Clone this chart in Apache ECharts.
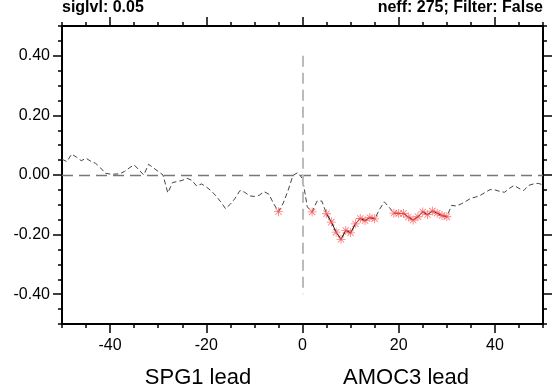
<!DOCTYPE html>
<html>
<head>
<meta charset="utf-8">
<script src="https://cdn.jsdelivr.net/npm/echarts@6/dist/echarts.min.js"></script>
<style>
html,body{margin:0;padding:0;background:#fff;}
#chart{width:553px;height:388px;}
</style>
</head>
<body>
<div id="chart"></div>
<script>
// ---- data ----
var lags = [-50,-49,-48,-47,-46,-45,-44,-43,-42,-41,-40,-39,-38,-37,-36,-35,-34,-33,-32,-31,
  -30,-29,-28,-27,-26,-25,-24,-23,-22,-21,-20,-19,-18,-17,-16,-15,-14,-13,-12,-11,
  -10,-9,-8,-7,-6,-5,-4,-3,-2,-1,0,1,2,3,4,5,6,7,8,9,
  10,11,12,13,14,15,16,17,18,19,20,21,22,23,24,25,26,27,28,29,
  30,31,32,33,34,35,36,37,38,39,40,41,42,43,44,45,46,47,48,49,50];
var corr = [0.053,0.045,0.070,0.060,0.048,0.056,0.046,0.039,0.024,0.006,
  0.003,0.003,0.004,0.012,0.024,0.034,0.017,0.000,0.036,0.024,
  0.012,0.000,-0.060,-0.025,-0.022,-0.018,-0.011,-0.018,-0.037,-0.030,
  -0.040,-0.053,-0.070,-0.090,-0.113,-0.098,-0.078,-0.052,-0.058,-0.070,
  -0.072,-0.068,-0.056,-0.064,-0.096,-0.123,-0.094,-0.052,-0.002,0.008,
  -0.012,-0.107,-0.124,-0.088,-0.087,-0.130,-0.158,-0.192,-0.216,-0.186,
  -0.194,-0.164,-0.146,-0.153,-0.143,-0.147,-0.116,-0.090,-0.108,-0.128,
  -0.129,-0.129,-0.141,-0.151,-0.140,-0.124,-0.133,-0.121,-0.128,-0.136,
  -0.140,-0.102,-0.104,-0.097,-0.088,-0.078,-0.074,-0.068,-0.058,-0.049,
  -0.050,-0.055,-0.058,-0.045,-0.035,-0.045,-0.052,-0.035,-0.030,-0.028,-0.033];
var sigLags = [-5,2,5,6,7,8,9,10,11,12,13,14,15,19,20,21,22,23,24,25,26,27,28,29,30];
var xMajorTicks = [-40,-20,0,20,40];
var xMinorTicks = [-50,-45,-40,-35,-30,-25,-20,-15,-10,-5,0,5,10,15,20,25,30,35,40,45,50];
var yMajorTicks = [-0.4,-0.2,0,0.2,0.4];
var yMinorTicks = [-0.5,-0.45,-0.4,-0.35,-0.3,-0.25,-0.2,-0.15,-0.1,-0.05,0,0.05,0.1,0.15,0.2,0.25,0.3,0.35,0.4,0.45,0.5];
var titleLeft = 'siglvl: 0.05';
var titleRight = 'neff: 275; Filter: False';
var leftName = 'SPG1 lead';
var rightName = 'AMOC3 lead';

// ---- build ----
var allData = lags.map(function(l, i){ return [l, corr[i]]; });
var sigData = lags.map(function(l, i){ return [l, sigLags.indexOf(l) >= 0 ? corr[i] : null]; });

var FONT = "'Liberation Sans', Arial, Helvetica, sans-serif";
var star = 'path://M-0.9,-10 L0.9,-10 L0.9,10 L-0.9,10 Z M-10,-0.9 L10,-0.9 L10,0.9 L-10,0.9 Z ' +
  'M-6.43,-7.71 L7.71,6.43 L6.43,7.71 L-7.71,-6.43 Z M6.43,-7.71 L7.71,-6.43 L-6.43,7.71 L-7.71,6.43 Z';

function mkX(pos, major){
  return {
    type:'value', min:-50, max:50, position:pos,
    axisLine:{show:major, onZero:false, lineStyle:{color:'#000', width:2}},
    axisTick:{show:true, inside:false, length: major ? 9 : 4,
      customValues: major ? xMajorTicks : xMinorTicks, lineStyle:{color:'#000', width:1.5}},
    axisLabel:{show: major && pos==='bottom', customValues:xMajorTicks, color:'#000',
      fontFamily:FONT, fontSize:16, margin:14},
    splitLine:{show:false}
  };
}
function mkY(pos, major){
  return {
    type:'value', min:-0.5, max:0.5, position:pos,
    axisLine:{show:major, onZero:false, lineStyle:{color:'#000', width:2}},
    axisTick:{show:true, inside:false, length: major ? 9 : 4,
      customValues: major ? yMajorTicks : yMinorTicks, lineStyle:{color:'#000', width:1.5}},
    axisLabel:{show: major && pos==='left', customValues:yMajorTicks, color:'#000',
      fontFamily:FONT, fontSize:16, margin:12,
      formatter:function(v){ return v.toFixed(2); }},
    splitLine:{show:false}
  };
}

var chart = echarts.init(document.getElementById('chart'), null, {renderer:'canvas'});
chart.setOption({
  animation:false,
  backgroundColor:'#fff',
  grid:{left:62, right:10, top:26, bottom:64, containLabel:false},
  xAxis:[mkX('bottom', true), mkX('bottom', false), mkX('top', true), mkX('top', false)],
  yAxis:[mkY('left', true), mkY('left', false), mkY('right', true), mkY('right', false)],
  graphic:[
    {type:'text', left:62, top:0, style:{text:titleLeft, font:'bold 16px ' + FONT, fill:'#000'}},
    {type:'text', right:10, top:0, style:{text:titleRight, font:'bold 16px ' + FONT, fill:'#000'}},
    {type:'text', x:198, y:378, style:{text:leftName, font:'22px ' + FONT, fill:'#000', align:'center', verticalAlign:'middle'}},
    {type:'text', x:406, y:378, style:{text:rightName, font:'22px ' + FONT, fill:'#000', align:'center', verticalAlign:'middle'}}
  ],
  series:[
    {
      type:'line', data:allData, xAxisIndex:0, yAxisIndex:0,
      showSymbol:false, symbol:'none',
      lineStyle:{color:'#444', width:1, type:[5,3]},
      z:3,
      markLine:{
        silent:true, symbol:'none', label:{show:false}, animation:false,
        data:[
          {yAxis:0, lineStyle:{color:'#777', width:1.3, type:[11,6]}},
          [{coord:[0,0.4], lineStyle:{color:'#bbb', width:2, type:[11,6]}}, {coord:[0,-0.4]}]
        ]
      }
    },
    {
      type:'line', data:sigData, xAxisIndex:0, yAxisIndex:0,
      connectNulls:false, symbol:star, symbolSize:9, showSymbol:true,
      itemStyle:{color:'#ff5050', opacity:0.8},
      lineStyle:{color:'#222', width:1},
      z:4
    }
  ]
});
</script>
</body>
</html>
